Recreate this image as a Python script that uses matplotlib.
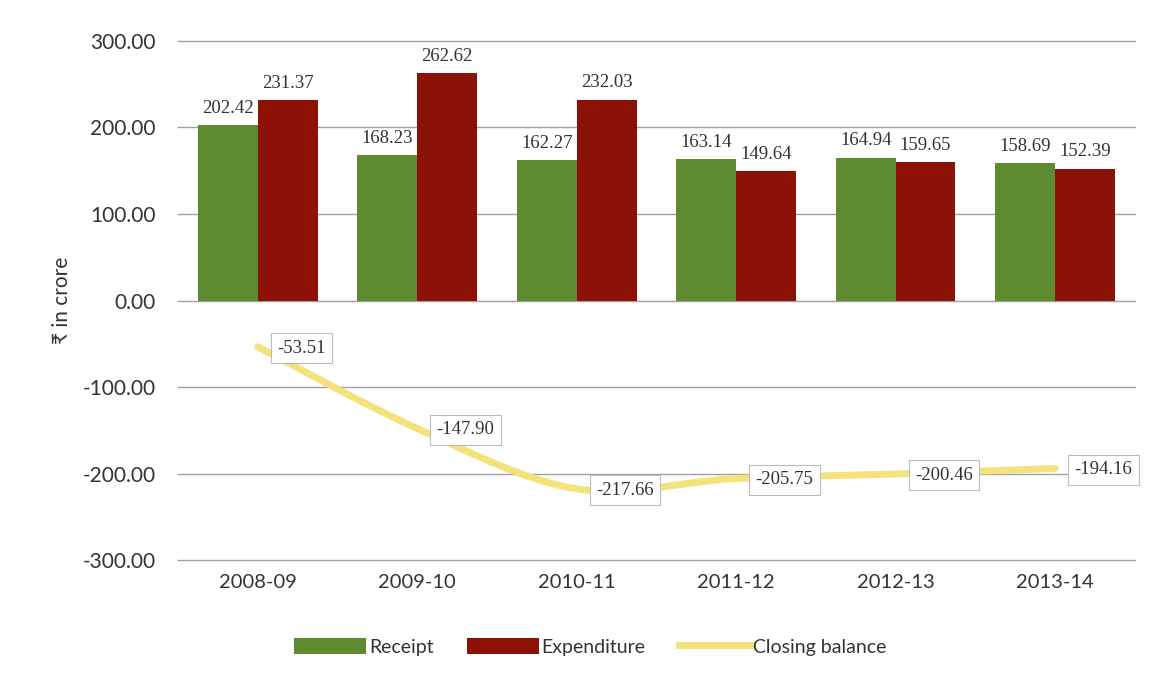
import numpy as np
import matplotlib.pyplot as plt
from matplotlib.path import Path
from matplotlib.patches import PathPatch

years = ['2008-09', '2009-10', '2010-11', '2011-12', '2012-13', '2013-14']
receipt = [202.42, 168.23, 162.27, 163.14, 164.94, 158.69]
expenditure = [231.37, 262.62, 232.03, 149.64, 159.65, 152.39]
closing = [-53.51, -147.90, -217.66, -205.75, -200.46, -194.16]

GREEN = '#5E8A30'
RED = '#8C1208'
YELLOW = '#F4E27A'
SANS = ['Lato', 'DejaVu Sans']
SERIF = 'Liberation Serif'

fig = plt.figure(figsize=(11.51, 6.83), dpi=100)
ax = fig.add_axes([0.1547, 0.18, 0.8313, 0.76])

x = np.arange(len(years))
w = 0.375
b1 = ax.bar(x - w / 2, receipt, w, color=GREEN, label='Receipt', zorder=2)
b2 = ax.bar(x + w / 2, expenditure, w, color=RED, label='Expenditure', zorder=2)

for bars, vals in ((b1, receipt), (b2, expenditure)):
    for r, v in zip(bars, vals):
        ax.annotate(f'{v:.2f}', (r.get_x() + r.get_width() / 2, v),
                    xytext=(0, 6), textcoords='offset points', ha='center',
                    va='bottom', fontsize=13.5, family=SERIF, color='#333333')

# smoothed line (Catmull-Rom style bezier through the data points)
pts = np.column_stack([x, closing]).astype(float)
verts = [tuple(pts[0])]
codes = [Path.MOVETO]
for i in range(len(pts) - 1):
    p0 = pts[i - 1] if i > 0 else pts[i]
    p1, p2 = pts[i], pts[i + 1]
    p3 = pts[i + 2] if i + 2 < len(pts) else pts[i + 1]
    c1 = p1 + (p2 - p0) / 6
    c2 = p2 - (p3 - p1) / 6
    verts += [tuple(c1), tuple(c2), tuple(p2)]
    codes += [Path.CURVE4] * 3
ax.add_patch(PathPatch(Path(verts, codes), fill=False, edgecolor=YELLOW,
                       lw=5, capstyle='round', zorder=3))
line_handle, = ax.plot([], [], color=YELLOW, lw=5, label='Closing balance')

for xi, v in zip(x, closing):
    ax.annotate(f'{v:.2f}', (xi, v), xytext=(14, -1), textcoords='offset points',
                ha='left', va='center', fontsize=13.5, family=SERIF, color='#333333',
                bbox=dict(boxstyle='square,pad=0.35', fc='white', ec='#BBBBBB', lw=0.8),
                zorder=4)

ax.set_xlim(-0.5, len(years) - 0.5)
ax.set_ylim(-300, 300)
ax.set_yticks(np.arange(-300, 301, 100))
ax.set_yticklabels([f'{t:.2f}' for t in np.arange(-300, 301, 100)])
ax.set_xticks(x)
ax.set_xticklabels(years)
ax.yaxis.grid(True, color='#A0A0A0', lw=1)
for gl in ax.get_ygridlines():
    gl.set_clip_on(False)
ax.set_axisbelow(True)
for s in ax.spines.values():
    s.set_visible(False)
ax.tick_params(length=0, labelsize=15, labelcolor='#333333')
ax.tick_params(axis='x', pad=10, labelsize=14.5)
ax.tick_params(axis='y', pad=16)
for lbl in ax.get_xticklabels() + ax.get_yticklabels():
    lbl.set_family(SANS)
ax.set_ylabel('₹ in crore', fontsize=15, family=SANS, color='#333333', labelpad=8)

leg = fig.legend(handles=[b1, b2, line_handle], loc='center',
                 bbox_to_anchor=(0.513, 0.053), ncol=3, frameon=False,
                 prop={'family': SANS, 'size': 14}, handlelength=3.7,
                 handleheight=0.9, handletextpad=0.15, columnspacing=1.7)
for t in leg.get_texts():
    t.set_color('#333333')

fig.savefig('out.png', dpi=100)
